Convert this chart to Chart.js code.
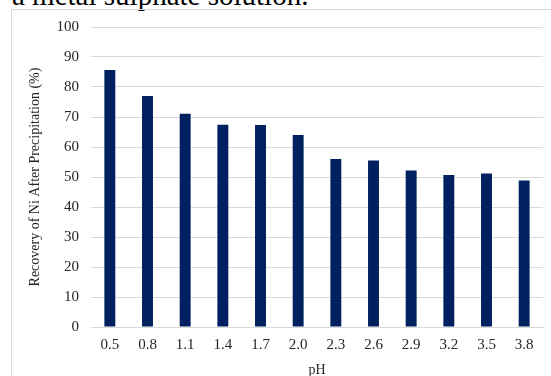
<!DOCTYPE html>
<html>
<head>
<meta charset="utf-8">
<script src="https://cdn.jsdelivr.net/npm/chart.js@4/dist/chart.umd.min.js"></script>
<style>
  html, body { margin: 0; padding: 0; background: #fff; }
  body { width: 551px; height: 376px; position: relative; overflow: hidden; }
  #caption {
    position: absolute; left: 12px; top: -20px;
    font-family: "Liberation Serif", "Times New Roman", serif;
    font-size: 29px; line-height: 30px; color: #000; white-space: nowrap;
  }
  #frame {
    position: absolute; left: 11px; top: 9px; width: 600px; height: 420px;
    border: 1.5px solid #d9d9d9; box-sizing: border-box;
  }
  #wrap { position: absolute; left: 0; top: 0; width: 551px; height: 376px; }
</style>
</head>
<body>
<div id="caption">a metal sulphate solution.</div>
<div id="frame"></div>
<div id="wrap"><canvas id="chart" width="551" height="376"></canvas></div>
<script>
// pH of the solution and nickel recovered after precipitation
const phLabels = ['0.5', '0.8', '1.1', '1.4', '1.7', '2.0', '2.3', '2.6', '2.9', '3.2', '3.5', '3.8'];
const recoveryNi = [85.7, 77.0, 71.1, 67.4, 67.3, 64.0, 56.0, 55.5, 52.2, 50.7, 51.2, 48.8];
const yTicks = [0, 10, 20, 30, 40, 50, 60, 70, 80, 90, 100];

const family = '"Liberation Serif", "Times New Roman", serif';
const tickFont = { family, size: 15 };
const titleFont = { family, size: 14 };

new Chart(document.getElementById('chart'), {
  type: 'bar',
  data: {
    labels: phLabels,
    datasets: [{
      data: recoveryNi,
      backgroundColor: '#002060',
      borderWidth: 0,
      barPercentage: 0.29,
      categoryPercentage: 1.0
    }]
  },
  options: {
    responsive: false,
    animation: false,
    devicePixelRatio: 1,
    layout: { padding: { left: 22, right: 8, top: 27, bottom: 0 } },
    plugins: { legend: { display: false }, tooltip: { enabled: false } },
    scales: {
      x: {
        grid: { display: false, drawTicks: false },
        border: { display: true, color: '#d9d9d9', width: 1 },
        ticks: { font: tickFont, color: '#262626', padding: 9, maxRotation: 0 },
        title: { display: true, text: 'pH', font: titleFont, color: '#262626', padding: { top: 0, bottom: -3 } },
        afterFit: s => { s.height = 49; }
      },
      y: {
        min: 0, max: 100,
        afterBuildTicks: s => { s.ticks = yTicks.map(v => ({ value: v })); },
        grid: { color: '#d9d9d9', lineWidth: 1, drawTicks: false },
        border: { display: false },
        ticks: { font: tickFont, color: '#262626', padding: 12 },
        title: {
          display: true, text: 'Recovery of Ni After Precipitation (%)',
          font: titleFont, color: '#262626', padding: { top: 5, bottom: 0 }
        },
        afterFit: s => { s.width = 69; }
      }
    }
  }
});
</script>
</body>
</html>
